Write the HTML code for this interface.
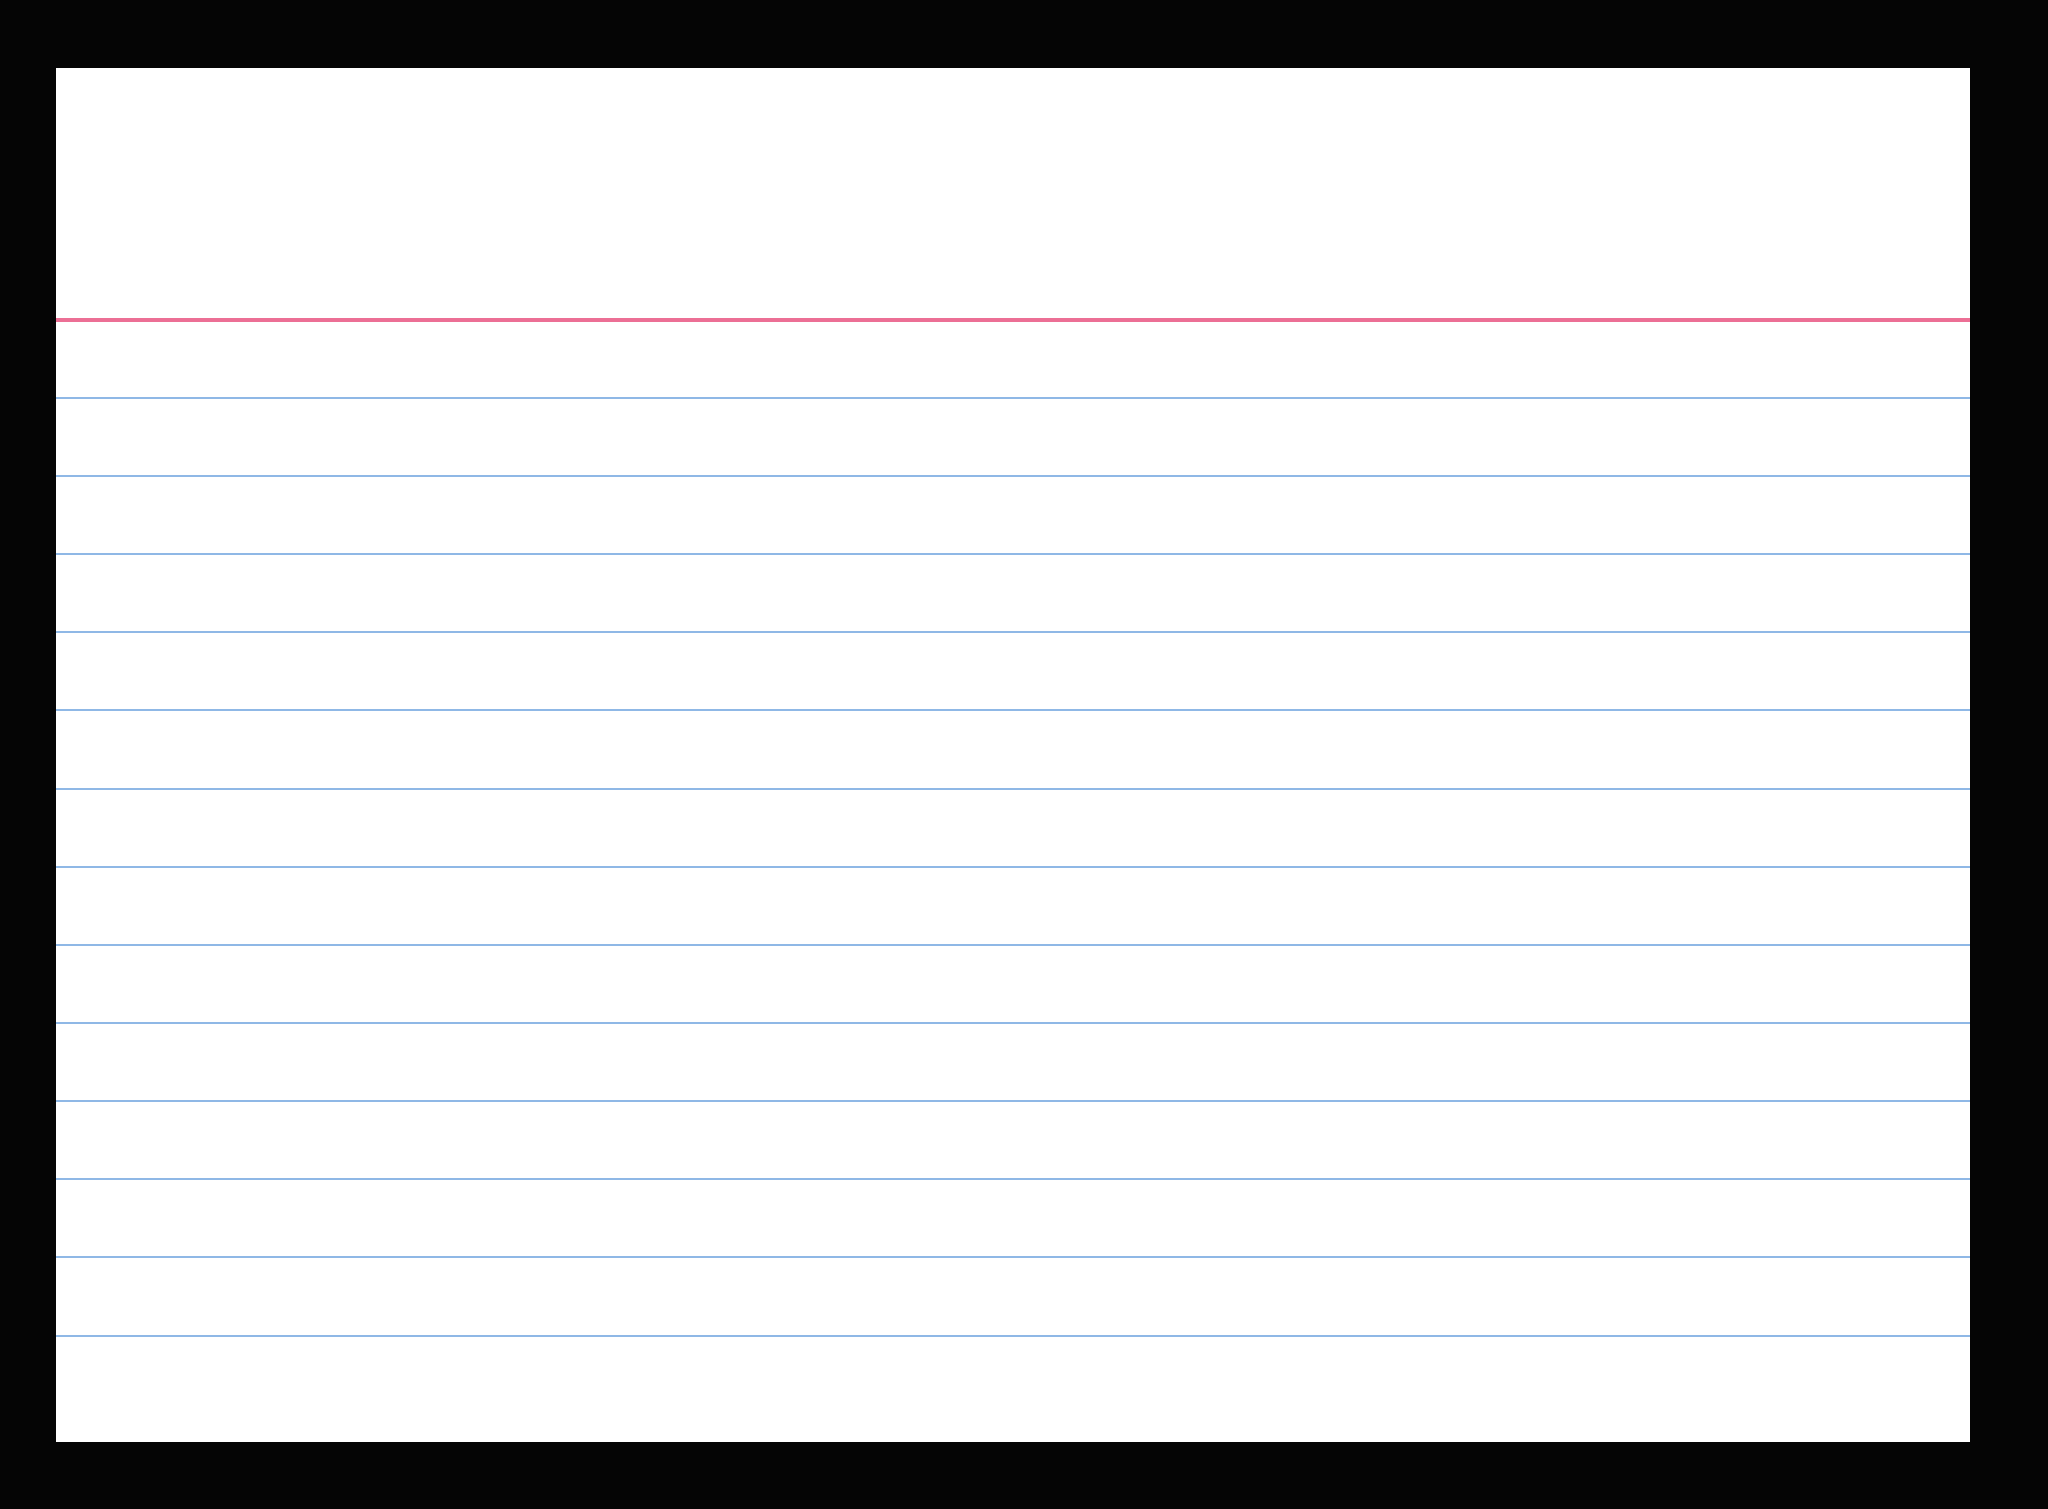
<!DOCTYPE html>
<html><head><style>
html,body{margin:0;padding:0;background:#050505;}
body{width:2048px;height:1509px;position:relative;overflow:hidden;}
.card{position:absolute;left:56px;top:68px;width:1914px;height:1374px;background:#fff;}
.l{position:absolute;left:0;width:100%;height:2px;background:#8fb8e6;}
.r{position:absolute;left:0;width:100%;top:250px;height:4px;background:#ec6f95;}
</style></head><body>
<div class="card">
<div class="r"></div>
<div class="l" style="top:329px"></div>
<div class="l" style="top:407px"></div>
<div class="l" style="top:485px"></div>
<div class="l" style="top:563px"></div>
<div class="l" style="top:641px"></div>
<div class="l" style="top:720px"></div>
<div class="l" style="top:798px"></div>
<div class="l" style="top:876px"></div>
<div class="l" style="top:954px"></div>
<div class="l" style="top:1032px"></div>
<div class="l" style="top:1110px"></div>
<div class="l" style="top:1188px"></div>
<div class="l" style="top:1267px"></div>
</div>
</body></html>
